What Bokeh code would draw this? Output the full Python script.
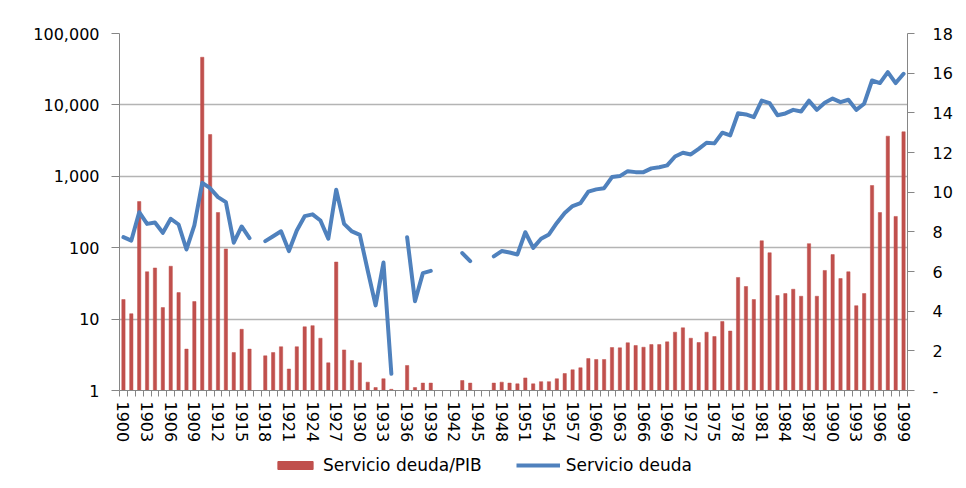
import math
from bokeh.plotting import figure
from bokeh.layouts import column
from bokeh.models import (Range1d, LinearAxis, LinearScale, FixedTicker, Legend,
                          LegendItem, ColumnDataSource)
from bokeh.embed import file_html
from bokeh.resources import INLINE

# ---- data ----
years = list(range(1900, 2000))

ratio_pib = [
    18.8, 11.9, 443, 46, 52, 14.5, 55, 23.5, 3.8, 17.6,
    46500, 3850, 311, 96, 3.4, 7.2, 3.8, None, 3.06, 3.4,
    4.1, 2.0, 4.1, 7.8, 8.1, 5.4, 2.44, 63, 3.7, 2.63,
    2.44, 1.31, 1.10, 1.46, 1.04, None, 2.24, 1.10, 1.27, 1.27,
    None, None, None, 1.38, 1.27, None, None, 1.27, 1.31, 1.27,
    1.24, 1.5, 1.24, 1.33, 1.33, 1.46, 1.73, 1.95, 2.08, 2.8,
    2.72, 2.72, 4.0, 3.96, 4.66, 4.27, 4.04, 4.4, 4.4, 4.8,
    6.56, 7.55, 5.4, 4.7, 6.56, 5.7, 9.25, 6.8, 38.3, 28.6,
    18.8, 125, 85, 21.4, 22.8, 26.2, 20.9, 114, 20.9, 48,
    80, 37, 46, 15.4, 22.8, 743, 311, 3650, 274, 4200,
]

servicio = [
    7.73, 7.56, 8.99, 8.40, 8.47, 7.95, 8.66, 8.37, 7.11, 8.32,
    10.47, 10.2, 9.75, 9.5, 7.45, 8.27, 7.68, None, 7.53, 7.78,
    8.03, 7.03, 8.07, 8.79, 8.88, 8.57, 7.65, 10.12, 8.40, 8.02,
    7.85, 6.05, 4.29, 6.45, 0.84, None, 7.73, 4.50, 5.92, 6.03,
    None, None, None, 6.93, 6.52, None, None, 6.76, 7.03, 6.96,
    6.86, 7.98, 7.19, 7.65, 7.87, 8.45, 8.95, 9.3, 9.45, 10.03,
    10.14, 10.2, 10.76, 10.81, 11.06, 11.01, 11.01, 11.2, 11.26, 11.35,
    11.8, 11.99, 11.9, 12.18, 12.49, 12.46, 13.0, 12.86, 13.98, 13.92,
    13.78, 14.62, 14.49, 13.88, 13.97, 14.15, 14.07, 14.61, 14.15, 14.51,
    14.72, 14.54, 14.66, 14.15, 14.46, 15.63, 15.5, 16.05, 15.5, 15.97,
]

left_ticks = [1, 10, 100, 1000, 10000, 100000]
left_labels = ["1", "10", "100", "1,000", "10,000", "100,000"]
right_ticks = [0, 2, 4, 6, 8, 10, 12, 14, 16, 18]
right_labels = ["-", "2", "4", "6", "8", "10", "12", "14", "16", "18"]
x_label_years = years[::3]

series_names = ["Servicio deuda/PIB", "Servicio deuda"]

# ---- build ----
nan = float("nan")
bars = [nan if v is None else v for v in ratio_pib]
line_vals = [nan if v is None else v for v in servicio]
src = ColumnDataSource(dict(x=years, bar=bars, line=line_vals))

FONT = "DejaVu Sans"
AX = "#868686"
BAR = "#C0504D"
BLUE = "#4F81BD"

p = figure(frame_width=788, frame_height=357, y_axis_type="log",
           x_range=Range1d(years[0] - 0.5, years[-1] + 0.5),
           y_range=Range1d(left_ticks[0], left_ticks[-1]),
           output_backend="svg", toolbar_location=None,
           min_border_left=119, min_border_right=55,
           min_border_top=33, min_border_bottom=50)
p.extra_y_ranges = {"right": Range1d(right_ticks[0], right_ticks[-1])}
p.extra_y_scales = {"right": LinearScale()}
p.outline_line_color = None
p.background_fill_color = "white"
p.border_fill_color = "white"

r_bar = p.vbar(x="x", top="bar", bottom=1, width=0.42, source=src,
               fill_color=BAR, line_color=BAR, line_width=0.5)
r_line = p.line(x="x", y="line", source=src, y_range_name="right",
                line_color=BLUE, line_width=4, line_join="round", line_cap="round")

# x axis
xa = p.xaxis[0]
xa.ticker = FixedTicker(ticks=x_label_years,
                        minor_ticks=[y - 0.5 for y in years] + [years[-1] + 0.5])
xa.major_label_overrides = {y: str(y) for y in x_label_years}
xa.major_label_orientation = "vertical"
xa.major_tick_line_color = None
xa.major_tick_out = 0
xa.minor_tick_in = 0
xa.minor_tick_out = 6
xa.minor_tick_line_color = AX
xa.axis_line_color = AX
xa.major_label_text_font = FONT
xa.major_label_text_font_size = "16px"
xa.major_label_text_color = "#000000"
xa.major_label_standoff = 5

# left axis
ya = p.yaxis[0]
ya.ticker = FixedTicker(ticks=left_ticks)
ya.major_label_overrides = {t: l for t, l in zip(left_ticks, left_labels)}
ya.minor_tick_line_color = None
ya.major_tick_in = 0
ya.major_tick_out = 8
ya.major_tick_line_color = AX
ya.axis_line_color = AX
ya.major_label_text_font = FONT
ya.major_label_text_font_size = "16px"
ya.major_label_text_color = "#000000"
ya.major_label_standoff = 12

# right axis
ra = LinearAxis(y_range_name="right", ticker=FixedTicker(ticks=right_ticks))
ra.major_label_overrides = {t: l for t, l in zip(right_ticks, right_labels)}
ra.minor_tick_line_color = None
ra.major_tick_in = 0
ra.major_tick_out = 7
ra.major_tick_line_color = AX
ra.axis_line_color = AX
ra.major_label_text_font = FONT
ra.major_label_text_font_size = "16px"
ra.major_label_text_color = "#000000"
ra.major_label_standoff = 18
p.add_layout(ra, "right")

p.xgrid.grid_line_color = None
p.ygrid.grid_line_color = "#B4B4B4"
p.ygrid.grid_line_width = 1.5

# ---- legend strip below the chart ----
lg = figure(width=962, height=40, output_backend="svg", toolbar_location=None,
            x_range=Range1d(0, 1), y_range=Range1d(0, 1), min_border=0)
lg.axis.visible = False
lg.grid.visible = False
lg.outline_line_color = None
lg.border_fill_color = "white"
# swatch-only renderers: their single point lies outside the visible range
swatch = ColumnDataSource(dict(x=[-5], y=[-5], top=[-4]))
d_bar = lg.vbar(x="x", top="top", bottom="y", width=0.1, source=swatch,
                fill_color=BAR, line_color=BAR)
d_line = lg.line(x="x", y="y", source=swatch, line_color=BLUE, line_width=4)

legend = Legend(items=[LegendItem(label=series_names[0], renderers=[d_bar]),
                       LegendItem(label=series_names[1], renderers=[d_line])],
                orientation="horizontal", location=(154, 10))
legend.border_line_color = None
legend.background_fill_alpha = 0
legend.label_text_font = FONT
legend.label_text_font_size = "17px"
legend.label_text_color = "#000000"
legend.glyph_width = 44
legend.glyph_height = 10
legend.label_standoff = 6
legend.spacing = 34
legend.padding = 4
legend.margin = 0
lg.add_layout(legend, "center")

layout = column(p, lg, spacing=0)
open("out.html", "w").write(file_html(layout, INLINE))
